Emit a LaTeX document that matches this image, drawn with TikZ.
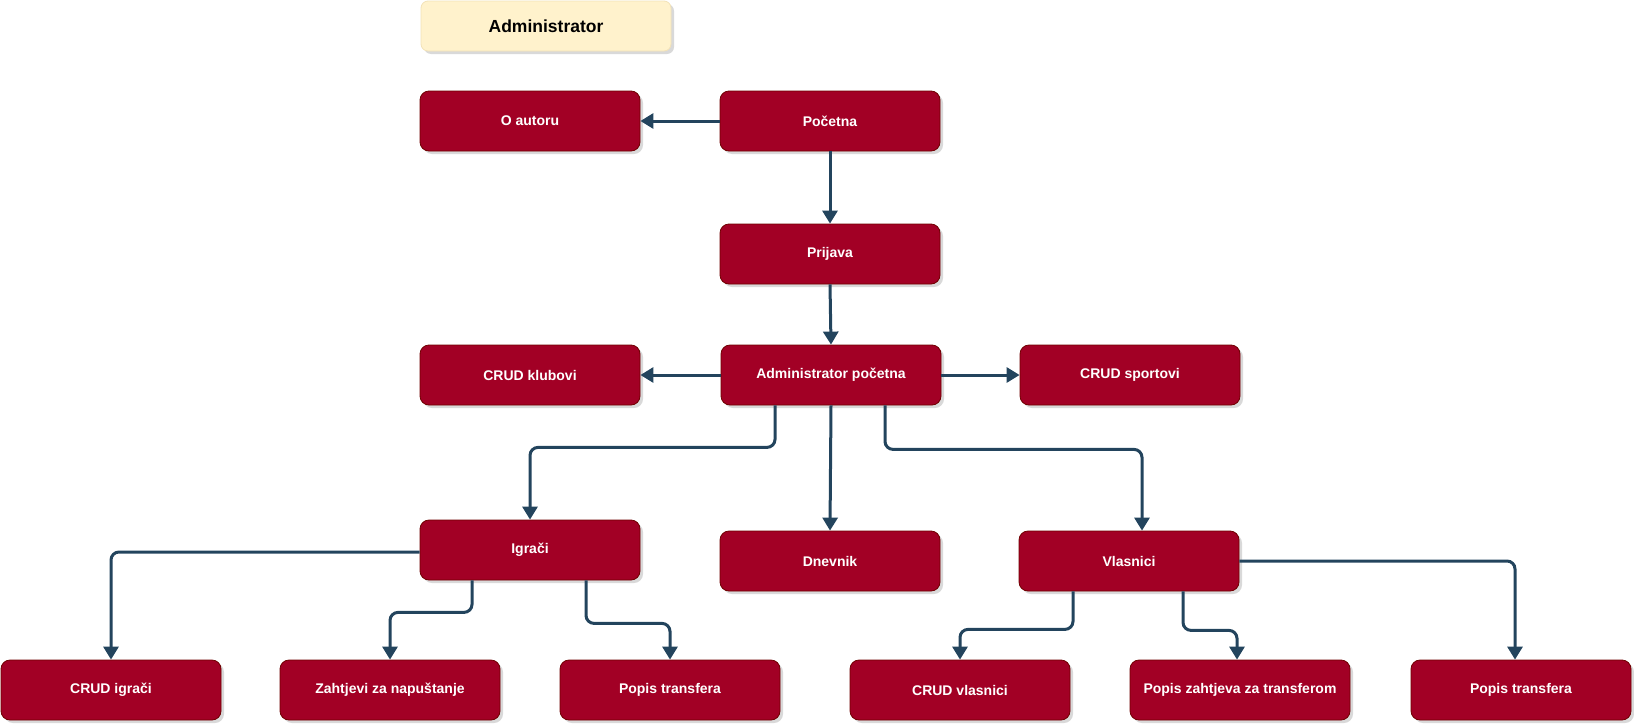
\documentclass[tikz,border=0pt]{standalone}
\usepackage{fontspec}
\setmainfont{Liberation Sans}
\usetikzlibrary{arrows.meta,shadows}
\definecolor{boxfill}{HTML}{A20025}
\definecolor{boxline}{HTML}{6F0000}
\definecolor{edgec}{HTML}{23445D}
\definecolor{hdrfill}{HTML}{FFF2CC}
\definecolor{hdrline}{HTML}{F2E2B8}
\begin{document}
\begin{tikzpicture}[x=1pt,y=-1pt,
  box/.style={rectangle, rounded corners=9pt, draw=boxline, line width=0.8pt,
    fill=boxfill, minimum width=220pt, minimum height=60pt, text=white,
    font=\bfseries\fontsize{14}{16}\selectfont,
    drop shadow={shadow xshift=3pt, shadow yshift=-3pt, fill=black!25, opacity=0.6}},
  hdr/.style={rectangle, rounded corners=7pt, draw=hdrline, line width=0.8pt,
    fill=hdrfill, minimum width=250pt, minimum height=50pt, text=black,
    font=\bfseries\fontsize{17.5}{20}\selectfont,
    drop shadow={shadow xshift=3pt, shadow yshift=-3pt, fill=black!25, opacity=0.6}},
  conn/.style={draw=edgec, line width=3pt, rounded corners=8pt,
    -{Triangle[length=13pt,width=15pt]}},
]
\useasboundingbox (0,0) rectangle (1634,726);

\node[hdr] (head) at (546,26) {Administrator};

\node[box] (oaut) at (530,121) {O autoru};
\node[box] (poc) at (830,121) {Početna};
\node[box] (prij) at (830,254) {Prijava};
\node[box] (adm) at (831,375) {Administrator početna};
\node[box] (ckl) at (530,375) {CRUD klubovi};
\node[box] (csp) at (1130,375) {CRUD sportovi};
\node[box] (igr) at (530,550) {Igrači};
\node[box] (dnv) at (830,561) {Dnevnik};
\node[box] (vla) at (1129,561) {Vlasnici};
\node[box] (cig) at (111,690) {CRUD igrači};
\node[box] (zah) at (390,690) {Zahtjevi za napuštanje};
\node[box] (pt1) at (670,690) {Popis transfera};
\node[box] (cvl) at (960,690) {CRUD vlasnici};
\node[box] (pzt) at (1240,690) {Popis zahtjeva za transferom};
\node[box] (pt2) at (1521,690) {Popis transfera};

\draw[conn] (poc.west) -- (oaut.east);
\draw[conn] (poc.south) -- (prij.north);
\draw[conn] (prij.south) -- (adm.north);
\draw[conn] (adm.west) -- (ckl.east);
\draw[conn] (adm.east) -- (csp.west);
\draw[conn] ([xshift=-56pt]adm.south) -- ++(0,42) -| (igr.north);
\draw[conn] (adm.south) -- (dnv.north);
\draw[conn] ([xshift=54pt]adm.south) -- ++(0,44) -| ([xshift=13pt]vla.north);
\draw[conn] ([yshift=-2pt]igr.west) -| (cig.north);
\draw[conn] ([xshift=-58pt]igr.south) -- ++(0,32) -| (zah.north);
\draw[conn] ([xshift=56pt]igr.south) -- ++(0,43) -| (pt1.north);
\draw[conn] ([xshift=-56pt]vla.south) -- ++(0,38) -| (cvl.north);
\draw[conn] ([xshift=54pt]vla.south) -- ++(0,39) -| ([xshift=-3pt]pzt.north);
\draw[conn] (vla.east) -| ([xshift=-6pt]pt2.north);
\end{tikzpicture}
\end{document}
